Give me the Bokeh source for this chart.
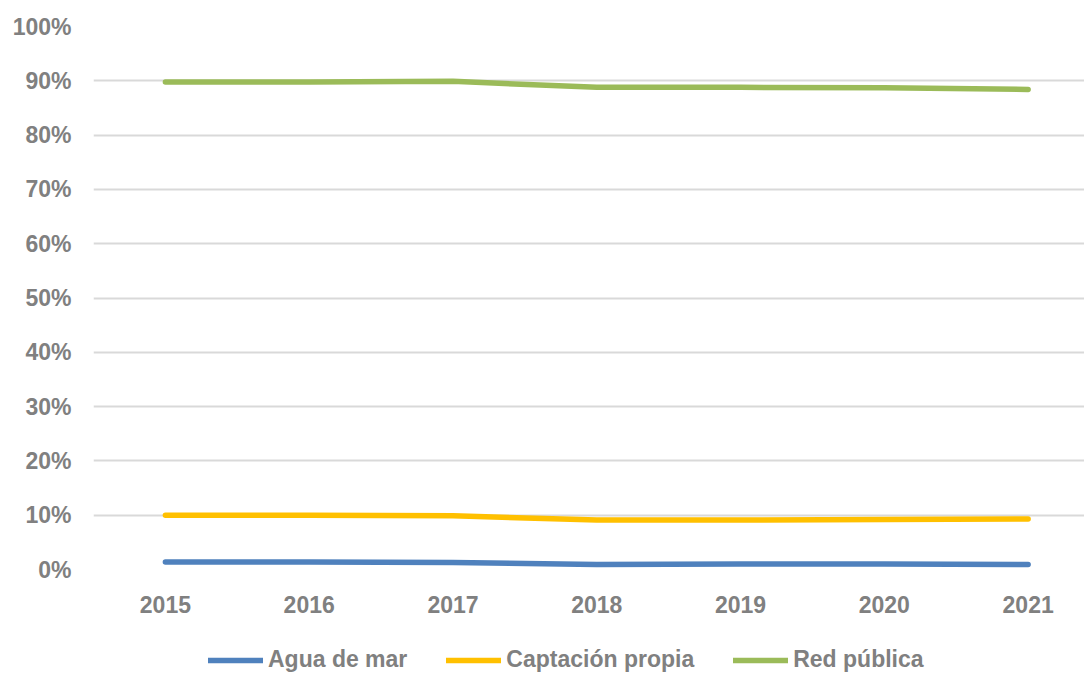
from bokeh.plotting import figure
from bokeh.layouts import column
from bokeh.models import Range1d, FixedTicker, NumeralTickFormatter, Legend, LegendItem
from bokeh.embed import file_html
from bokeh.resources import INLINE

years = [2015, 2016, 2017, 2018, 2019, 2020, 2021]
agua_de_mar = [0.014, 0.014, 0.013, 0.009, 0.010, 0.010, 0.009]
captacion_propia = [0.100, 0.100, 0.099, 0.091, 0.091, 0.092, 0.093]
red_publica = [0.898, 0.898, 0.899, 0.888, 0.888, 0.887, 0.884]
y_ticks = [0.0, 0.1, 0.2, 0.3, 0.4, 0.5, 0.6, 0.7, 0.8, 0.9, 1.0]

FONT = "Liberation Sans"
GREY = "#808080"

p = figure(width=1084, height=625, output_backend="svg", toolbar_location=None,
           x_range=Range1d(2014.5, 2021.392), y_range=Range1d(0, 1),
           min_border_left=93, min_border_right=0, min_border_top=26, min_border_bottom=56)
p.outline_line_color = None
p.background_fill_color = "white"
p.border_fill_color = "white"

series = [("Agua de mar", agua_de_mar, "#4f81bd"),
          ("Captación propia", captacion_propia, "#ffc000"),
          ("Red pública", red_publica, "#9bbb59")]
for name, vals, col in series:
    p.line(years, vals, line_color=col, line_width=5.5, line_cap="round", line_join="round")

p.xgrid.grid_line_color = None
p.ygrid.grid_line_color = "#d9d9d9"
p.ygrid.grid_line_width = 2
p.yaxis.ticker = FixedTicker(ticks=y_ticks)
p.yaxis.formatter = NumeralTickFormatter(format="0%")
p.xaxis.ticker = FixedTicker(ticks=years)

for ax in (p.xaxis[0], p.yaxis[0]):
    ax.axis_line_color = None
    ax.major_tick_line_color = None
    ax.minor_tick_line_color = None
    ax.major_tick_out = 0
    ax.major_tick_in = 0
    ax.minor_tick_out = 0
    ax.major_label_text_font = FONT
    ax.major_label_text_font_style = "bold"
    ax.major_label_text_font_size = "23px"
    ax.major_label_text_color = GREY
p.yaxis.major_label_standoff = 22
p.xaxis.major_label_standoff = 26

# legend strip below the chart (series drawn off-view, only their legend shows)
lg = figure(width=1084, height=48, output_backend="svg", toolbar_location=None,
            x_range=Range1d(0, 1), y_range=Range1d(5, 6),
            min_border=0, min_border_left=0, min_border_right=0, min_border_top=0, min_border_bottom=0)
lg.axis.visible = False
lg.grid.visible = False
lg.outline_line_color = None
lg.border_fill_color = "white"
items = []
for name, vals, col in series:
    r = lg.line(years, vals, line_color=col, line_width=5.5, line_cap="round")
    items.append(LegendItem(label=name, renderers=[r]))

legend = Legend(items=items, orientation="horizontal", location=(115, 0),
                glyph_width=55, glyph_height=20, label_standoff=5, spacing=39,
                padding=0, margin=0, border_line_color=None, background_fill_alpha=0,
                label_text_font=FONT, label_text_font_style="bold",
                label_text_font_size="23px", label_text_color=GREY)
lg.add_layout(legend, "center")

layout = column(p, lg, spacing=0)
open("out.html", "w").write(file_html(layout, INLINE))
